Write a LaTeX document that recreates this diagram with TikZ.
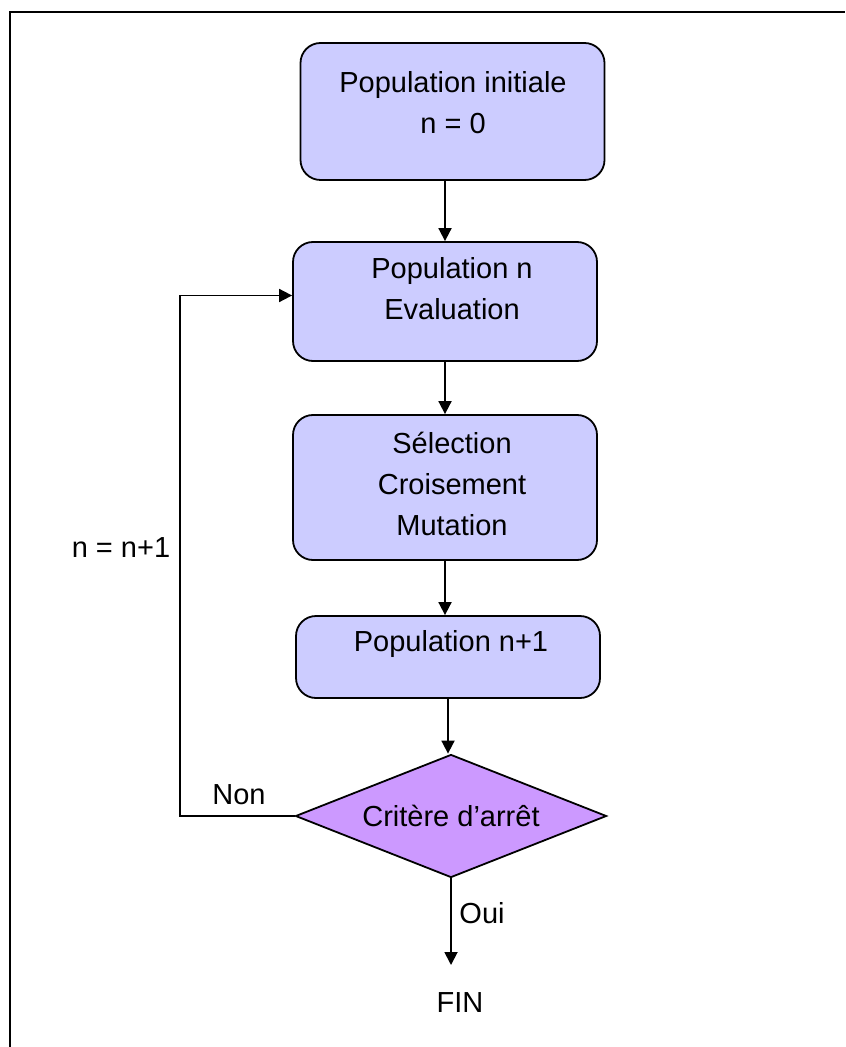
\documentclass[tikz,border=0pt]{standalone}
\usepackage{fontspec}
\setmainfont{Liberation Sans}
\usepackage{tikz}
\usetikzlibrary{arrows.meta,shapes.geometric}
\definecolor{boxblue}{RGB}{204,204,255}
\definecolor{critviolet}{RGB}{204,153,255}
\newcommand{\flowfont}{\fontsize{14.5}{20.5}\selectfont}
\tikzset{
  stepbox/.style={draw, fill=boxblue, rounded corners=10pt, line width=0.9pt, minimum width=152pt, inner sep=0pt},
  testbox/.style={diamond, draw, fill=critviolet, line width=0.9pt, aspect=2.5, minimum width=155.5pt, minimum height=61.5pt, inner sep=0pt, font=\flowfont},
  lbl/.style={align=center, inner sep=0pt, font=\flowfont},
  flow/.style={line width=0.9pt, -{Triangle[length=6.5pt,width=6.5pt]}}
}

\begin{document}
\begin{tikzpicture}[x=0.5pt, y=-0.5pt]
  \useasboundingbox (0,0) rectangle (845,1047);
  \draw[line width=1.2pt] (10,1047) -- (10,12) -- (845,12);
  \node[stepbox, minimum height=68.5pt] (init) at (452.5,111.5) {};
  \node[lbl] (initlbl) at (453,102.5) {Population initiale\\n = 0};
  \node[stepbox, minimum height=59.5pt] (evalbox) at (445,301.5) {};
  \node[lbl] (evallbl) at (452,288.5) {Population n\\Evaluation};
  \node[stepbox, minimum height=72.5pt] (opbox) at (445,487.5) {};
  \node[lbl] (oplbl) at (452,483.5) {Sélection\\Croisement\\Mutation};
  \node[stepbox, minimum height=41pt] (nextbox) at (448,657) {};
  \node[lbl] (nextlbl) at (451,644) {Population n+1};
  \node[testbox] (crit) at (451,816) {Critère d’arrêt};
  \node[lbl] (fin) at (460,1003) {FIN};
  \node[lbl] (oui) at (482,913) {Oui};
  \node[lbl] (non) at (239,795) {Non};
  \node[lbl] (incr) at (121,548) {n = n+1};
  \coordinate (finend) at (451,965);
  \coordinate (loopc) at (180,816);
  \draw[flow] (init.south -| evalbox) -- (evalbox.north);
  \draw[flow] (evalbox.south) -- (opbox.north);
  \draw[flow] (opbox.south) -- (opbox.south |- nextbox.north);
  \draw[flow] (nextbox.south) -- (nextbox.south |- crit.north);
  \draw[flow] (crit.south) -- (finend);
  \draw[flow] (crit.west) -- (loopc) |- ([yshift=3pt]evalbox.west);
\end{tikzpicture}
\end{document}
